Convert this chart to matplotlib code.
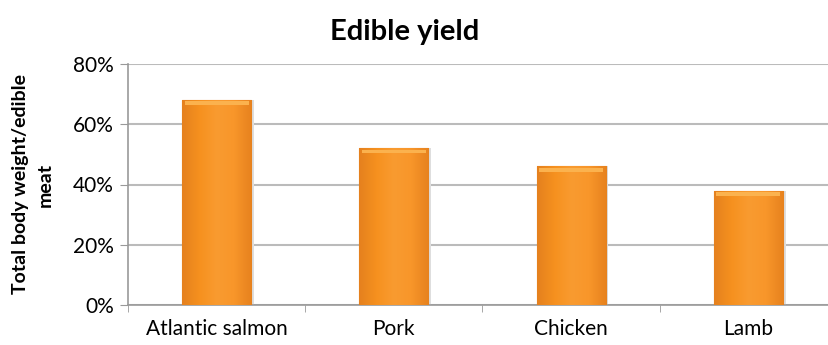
import matplotlib
matplotlib.use("Agg")
import matplotlib.pyplot as plt
from matplotlib.colors import LinearSegmentedColormap
import numpy as np

# data
categories = ["Atlantic salmon", "Pork", "Chicken", "Lamb"]
edible_pct = [68, 52, 46, 38]
yticks = [0, 20, 40, 60, 80]

plt.rcParams["font.family"] = ["Lato", "DejaVu Sans"]

fig = plt.figure(figsize=(8.29, 3.45), dpi=100)
ax = fig.add_axes([128 / 829, 40 / 345, 709 / 829, 241 / 345])

x = np.arange(len(categories))
w = 0.39
shade = LinearSegmentedColormap.from_list(
    "bar", ["#E5811E", "#F6911F", "#F99B30", "#F8962A", "#E7821E"])
grad = np.linspace(0, 1, 64).reshape(1, -1)

ax.bar(x + 0.015, edible_pct, width=w, color="0.87", zorder=2)
bars = ax.bar(x, edible_pct, width=w, color="#F7941E", edgecolor="#DC7A1A",
              linewidth=0.8, zorder=3)
for b in bars:
    x0, y0 = b.get_x(), b.get_y()
    im = ax.imshow(grad, cmap=shade, aspect="auto", zorder=3.5,
                   extent=(x0, x0 + b.get_width(), y0, y0 + b.get_height()))
    im.set_clip_path(b)
# lighter bevel strip along the top of each bar
ax.bar(x, [1.3] * len(x), bottom=[v - 1.7 for v in edible_pct],
       width=w - 0.03, color="#FBB24E", linewidth=0, zorder=4)

ax.set_xlim(-0.5, 3.5)
ax.set_ylim(0, 80)
ax.set_yticks(yticks)
ax.set_yticklabels([f"{t}%" for t in yticks], fontsize=15)
ax.set_xticks(x)
ax.set_xticklabels(categories, fontsize=15)
ax.set_xticks(np.arange(-0.5, 4, 1), minor=True)
ax.tick_params(axis="x", which="major", length=0, pad=10)
ax.tick_params(axis="x", which="minor", length=5, color="#999999")
ax.tick_params(axis="y", length=6, color="#999999", pad=4)

ax.yaxis.grid(True, color="#BBBBBB", linewidth=1.5, zorder=0)
ax.set_axisbelow(True)
for side in ["top", "right"]:
    ax.spines[side].set_visible(False)
for side in ["left", "bottom"]:
    ax.spines[side].set_color("#999999")
    ax.spines[side].set_linewidth(1.2)

ax.set_ylabel("Total body weight/edible\nmeat", fontsize=14,
              fontweight="bold", labelpad=14, linespacing=1.55)
fig.text(405 / 829, 1 - 32 / 345, "Edible yield", fontsize=21,
         fontweight="bold", ha="center", va="center")

fig.savefig("out.png", dpi=100)
